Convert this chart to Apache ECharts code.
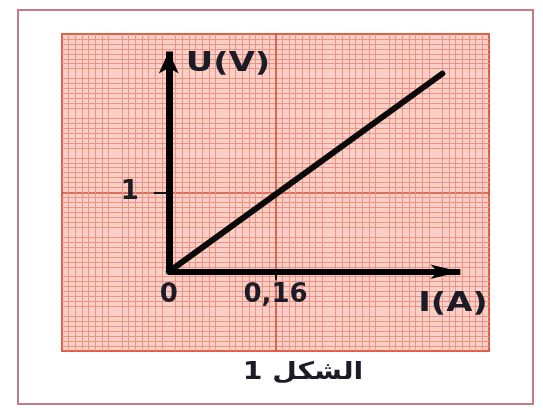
<!DOCTYPE html>
<html>
<head>
<meta charset="utf-8">
<script src="https://cdn.jsdelivr.net/npm/echarts@6/dist/echarts.min.js"></script>
<style>
  html, body { margin: 0; padding: 0; background: #fff; }
  #chart { width: 543px; height: 408px; }
</style>
</head>
<body>
<div id="chart"></div>
<script>
// measured line U = f(I)
const currentA = [0, 0.41];
const voltageV = [0, 2.5];
// graph paper range
const xRange = [-0.16, 0.48];
const yRange = [-1, 3];
// labelled ticks
const xTickValues = [0, 0.16];
const yTickValues = [1];
// axis arrow ends (data units)
const xArrowEnd = 0.437;
const yArrowEnd = 2.78;

const FONT = "DejaVu Sans";
const majorColor = "#d44f38";
const midColor = "#df6d58";
const minorColor = "#ec9484";
const textColor = "#1c1c26";

const chart = echarts.init(document.getElementById("chart"), null, { renderer: "canvas" });

const paperAxis = {
  type: "value",
  axisLine: { show: true, onZero: true, lineStyle: { opacity: 0 } },
  axisLabel: { show: false },
  splitLine: { show: true, lineStyle: { color: [majorColor, midColor], width: 1.6 } },
  minorTick: { show: false, splitNumber: 8 },
  minorSplitLine: { show: true, lineStyle: { color: minorColor, width: 1 } },
};

const tickLabel = {
  show: true,
  color: textColor,
  fontFamily: FONT,
  fontWeight: "bold",
  fontSize: 26,
};

const option = {
  animation: false,
  grid: {
    left: 62, top: 34, width: 427, height: 317,
    show: true,
    backgroundColor: "#f9cfc8",
    borderColor: "#e05f47",
    borderWidth: 2,
  },
  xAxis: Object.assign({}, paperAxis, {
    min: xRange[0],
    max: xRange[1],
    interval: 0.08,
    axisTick: { show: true, customValues: [0.16], length: 8, lineStyle: { color: "#111", width: 2 } },
  }),
  yAxis: Object.assign({}, paperAxis, {
    min: yRange[0],
    max: yRange[1],
    interval: 0.5,
    axisTick: { show: true, customValues: yTickValues, length: 15, lineStyle: { color: "#111", width: 2 } },
  }),
  series: [
    {
      type: "line",
      data: [],
      silent: true,
      markLine: {
        silent: true,
        symbol: ["none", "arrow"],
        symbolSize: [11, 30],
        label: { show: false },
        lineStyle: { color: "#000", width: 6, type: "solid" },
        data: [[{ coord: [0, 0] }, { coord: [xArrowEnd, 0] }]],
      },
    },
    {
      type: "line",
      data: [],
      silent: true,
      markLine: {
        silent: true,
        symbol: ["none", "arrow"],
        symbolSize: [15, 22],
        label: { show: false },
        lineStyle: { color: "#000", width: 7, type: "solid" },
        data: [[{ coord: [0, 0] }, { coord: [0, yArrowEnd] }]],
      },
    },
    {
      type: "line",
      data: currentA.map((x, i) => [x, voltageV[i]]),
      symbol: "none",
      lineStyle: { color: "#0a0a0a", width: 6, cap: "round" },
      z: 4,
    },
    // tick labels on the I axis
    {
      type: "scatter",
      silent: true,
      symbolSize: 0,
      itemStyle: { opacity: 1 },
      data: xTickValues.map((v) => [v, 0]),
      label: Object.assign({}, tickLabel, {
        position: "bottom",
        distance: 10,
        formatter: (p) => String(p.value[0]).replace(".", ","),
      }),
      z: 6,
    },
    // tick labels on the U axis
    {
      type: "scatter",
      silent: true,
      symbolSize: 0,
      itemStyle: { opacity: 1 },
      data: yTickValues.map((v) => [0, v]),
      label: Object.assign({}, tickLabel, {
        position: "left",
        distance: 30,
        formatter: (p) => String(p.value[1]),
      }),
      z: 6,
    },
  ],
  graphic: [
    {
      type: "rect",
      shape: { x: 18, y: 10, width: 515, height: 394 },
      style: { fill: null, stroke: "#c47c84", lineWidth: 2 },
      z: -10,
    },
    {
      type: "text",
      x: 228, y: 64, scaleX: 1.3,
      style: { text: "U(V)", fontFamily: FONT, fontWeight: "bold", fontSize: 26, fill: textColor, align: "center", verticalAlign: "middle" },
      z: 10,
    },
    {
      type: "text",
      x: 453, y: 304, scaleX: 1.3,
      style: { text: "I(A)", fontFamily: FONT, fontWeight: "bold", fontSize: 26, fill: textColor, align: "center", verticalAlign: "middle" },
      z: 10,
    },
    {
      type: "text",
      x: 303, y: 373, scaleX: 1.18,
      style: { text: "الشكل 1", fontFamily: FONT, fontWeight: "bold", fontSize: 24, fill: textColor, align: "center", verticalAlign: "middle" },
      z: 10,
    },
  ],
};

chart.setOption(option);
</script>
</body>
</html>
